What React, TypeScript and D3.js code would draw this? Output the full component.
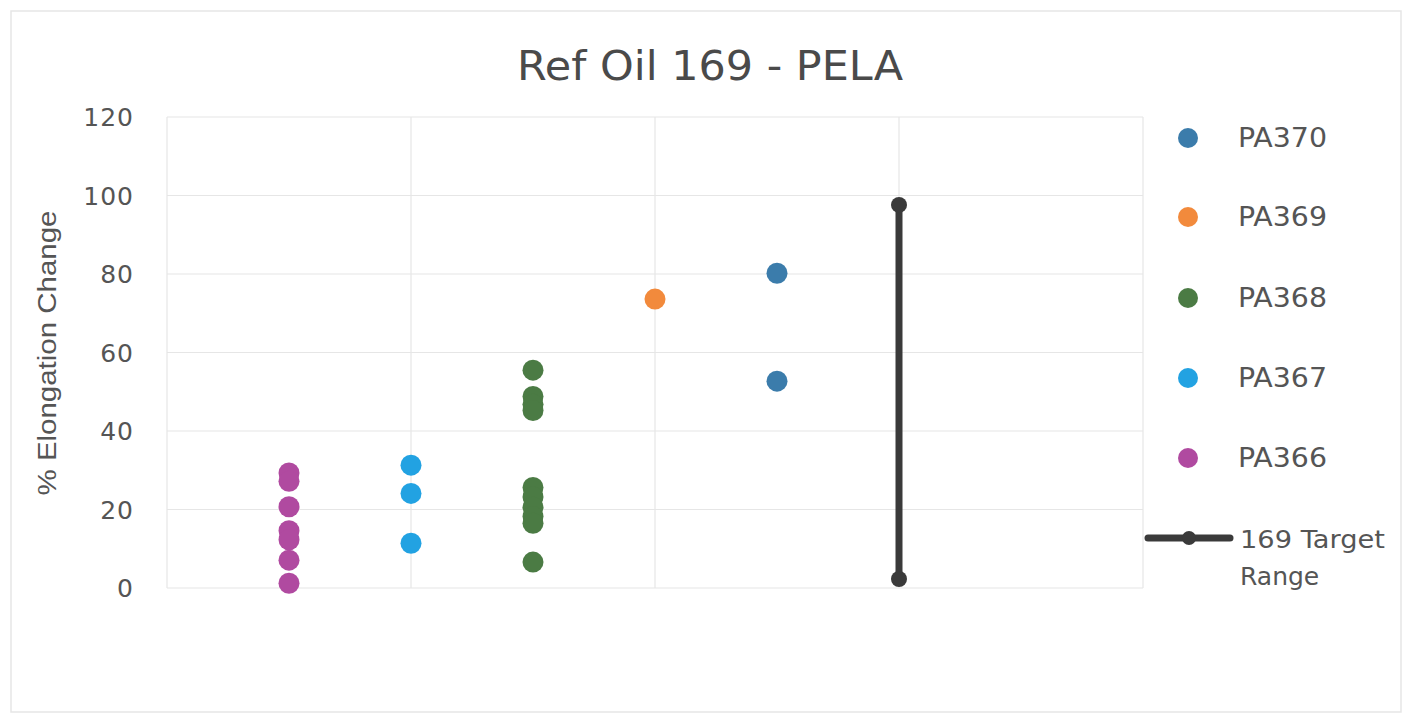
import React from "react";
import * as d3 from "d3";

const W = 1410;
const H = 719;

const seriesNames = ["PA370", "PA369", "PA368", "PA367", "PA366"];
const seriesColors = ["#3b7cab", "#f28a3c", "#4b7b44", "#22a2e2", "#b04aa0"];
const seriesX = [5, 4, 3, 2, 1];
const pa370 = [80.2, 52.7];
const pa369 = [73.6];
const pa368 = [55.5, 48.8, 46.8, 45.2, 25.6, 23.2, 20.6, 18.2, 16.5, 6.6];
const pa367 = [31.3, 24.1, 11.4];
const pa366 = [29.3, 27.2, 20.7, 14.6, 12.3, 7.1, 1.2];
const seriesValues = [pa370, pa369, pa368, pa367, pa366];

const targetName = ["169 Target", "Range"];
const targetX = 6;
const targetRange = [2.3, 97.6];

const yTicks = [0, 20, 40, 60, 80, 100, 120];
const xGrid = [0, 2, 4, 6, 8];

const title = "Ref Oil 169 - PELA";
const yTitle = "% Elongation Change";

export default function App() {
  const left = 167, right = 1143, top = 117, bottom = 588;
  const x = d3.scaleLinear().domain([0, 8]).range([left, right]);
  const y = d3.scaleLinear().domain([0, 120]).range([bottom, top]);
  const font = "'DejaVu Sans', 'Liberation Sans', sans-serif";
  const textColor = "#555555";
  const r = 10.5;

  const legendY = [138, 217, 298, 378, 458];

  return (
    <svg width={W} height={H} style={{ position: "absolute", left: 0, top: 0, background: "#fff" }}>
      <rect x={0} y={0} width={W} height={H} fill="#fff" />
      <rect x={11} y={11} width={1390} height={701} fill="none" stroke="#e6e6e6" strokeWidth={1.5} />
      <text x={710} y={80} textAnchor="middle" fontFamily={font} fontSize={40} fill="#4a4a4a" textLength={386} lengthAdjust="spacingAndGlyphs">{title}</text>

      {yTicks.map((t) => (
        <g key={"y" + t}>
          <line x1={left} x2={right} y1={y(t)} y2={y(t)} stroke="#e6e6e6" strokeWidth={1.2} />
          <text x={134} y={y(t)} dy="0.36em" textAnchor="end" fontFamily={font} fontSize={25} letterSpacing={1} fill={textColor}>{t}</text>
        </g>
      ))}
      {xGrid.map((g) => (
        <line key={"x" + g} x1={x(g)} x2={x(g)} y1={top} y2={bottom} stroke="#e6e6e6" strokeWidth={1.2} />
      ))}

      <text transform={`translate(56,353) rotate(-90)`} textAnchor="middle" fontFamily="'Liberation Sans', sans-serif" fontSize={26} fill={textColor} textLength={285} lengthAdjust="spacingAndGlyphs">{yTitle}</text>

      {seriesValues.map((vals, i) => (
        <g key={"s" + i}>
          {vals.map((v, j) => (
            <circle key={j} cx={x(seriesX[i])} cy={y(v)} r={r} fill={seriesColors[i]} />
          ))}
        </g>
      ))}

      <line x1={x(targetX)} x2={x(targetX)} y1={y(targetRange[0])} y2={y(targetRange[1])} stroke="#3a3a3a" strokeWidth={7} />
      {targetRange.map((v, i) => (
        <circle key={"t" + i} cx={x(targetX)} cy={y(v)} r={8} fill="#3a3a3a" />
      ))}

      {seriesNames.map((n, i) => (
        <g key={"l" + i}>
          <circle cx={1188} cy={legendY[i]} r={10} fill={seriesColors[i]} />
          <text x={1238} y={legendY[i]} dy="0.36em" fontFamily={font} fontSize={26} fill={textColor} textLength={89} lengthAdjust="spacingAndGlyphs">{n}</text>
        </g>
      ))}
      <line x1={1148} x2={1230} y1={538} y2={538} stroke="#3a3a3a" strokeWidth={7} strokeLinecap="round" />
      <circle cx={1189} cy={538} r={7} fill="#3a3a3a" />
      <text x={1240} y={539} dy="0.36em" fontFamily={font} fontSize={25} fill={textColor} textLength={145} lengthAdjust="spacingAndGlyphs">{targetName[0]}</text>
      <text x={1240} y={576} dy="0.36em" fontFamily={font} fontSize={25} fill={textColor}>{targetName[1]}</text>
    </svg>
  );
}
